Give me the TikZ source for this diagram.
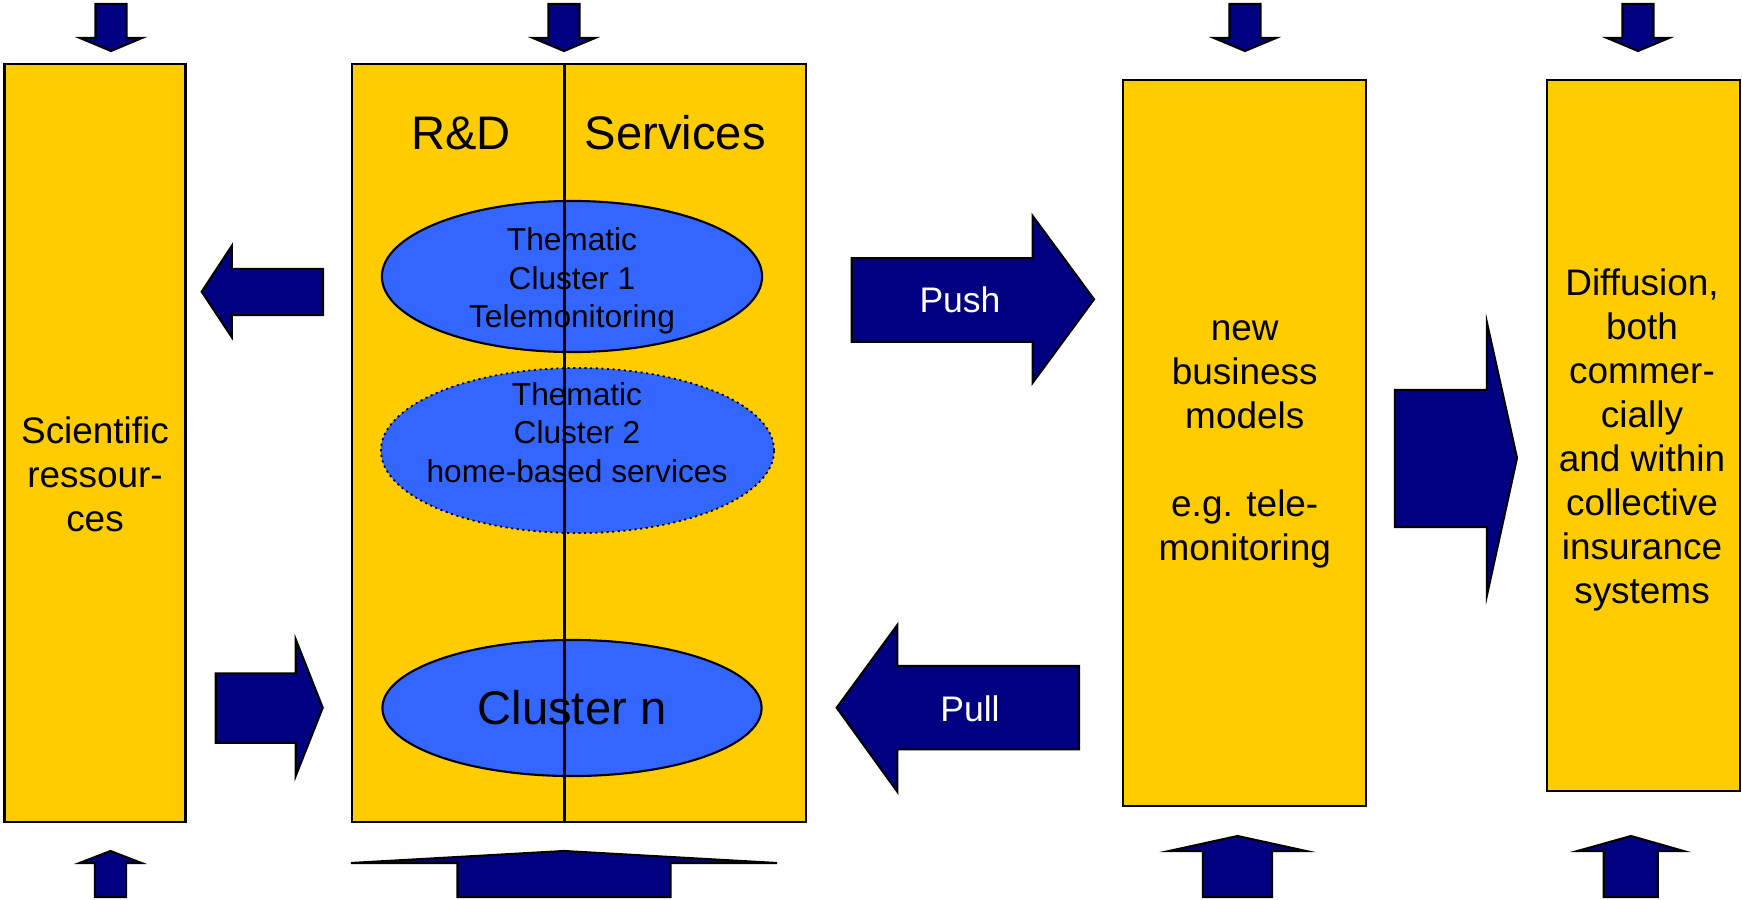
\documentclass[tikz,border=0pt]{standalone}
\usepackage{fontspec}
\setmainfont{Liberation Sans}
\usepackage{xcolor}
\usepackage{tikz}
\usetikzlibrary{shapes.geometric}
\definecolor{boxyellow}{HTML}{FFCC00}
\definecolor{clusterblue}{HTML}{3366FF}
\definecolor{arrownavy}{HTML}{000080}

\begin{document}
\begin{tikzpicture}[x=0.01cm, y=-0.01cm,
    column/.style={rectangle, draw=black, line width=0.6pt, fill=boxyellow, inner sep=0pt},
    cluster/.style={ellipse, draw=black, line width=0.6pt, fill=clusterblue, inner sep=0pt},
    blockarrow/.style={draw=black, line width=0.6pt, fill=arrownavy, line join=miter},
    coltext/.style={align=center, inner sep=0pt, font=\fontsize{10.5}{12.5}\selectfont},
    clustertext/.style={align=center, inner sep=0pt, font=\fontsize{9}{10.9}\selectfont},
    headtext/.style={inner sep=0pt, font=\fontsize{13.4}{16}\selectfont},
    arrowtext/.style={inner sep=0pt, text=white, font=\fontsize{10.1}{12}\selectfont}]
      \useasboundingbox (0,0) rectangle (1742,900);

      \node[column, minimum width=1.81cm, minimum height=7.575cm] (sci) at (95,443.25) {};
      \node[column, minimum width=4.535cm, minimum height=7.575cm] (rd) at (578.75,443.25) {};
      \node[column, minimum width=2.425cm, minimum height=7.26cm] (biz) at (1244.75,443) {};
      \node[column, minimum width=1.925cm, minimum height=7.11cm] (diff) at (1643.25,435.5) {};

      \node[coltext] (scitext) at (95,474) {Scientific\\ressour-\\ces};
      \node[coltext] (biztext) at (1244.75,444) {new\\business\\models\\[12.5pt]e.g. tele-\\monitoring};
      \node[coltext] (difftext) at (1642,440) {Diffusion,\\both\\commer-\\cially\\and within\\collective\\insurance\\systems};

      \node[headtext, anchor=base] (rdlabel) at (461,149) {R\&D};
      \node[headtext, anchor=base] (servlabel) at (675.3,149) {Services};

      \node[cluster, minimum width=3.8cm, minimum height=1.51cm] (c1) at (572,276.5) {};
      \node[cluster, densely dotted, line width=0.5pt, minimum width=3.93cm, minimum height=1.65cm] (c2) at (577.5,450.5) {};
      \node[cluster, minimum width=3.79cm, minimum height=1.36cm, font=\fontsize{13.4}{16}\selectfont] (c3) at (572,708) {Cluster n};
      \node[clustertext] (c1text) at (572,281) {Thematic\\Cluster 1\\Telemonitoring};
      \node[clustertext] (c2text) at (577,432.5) {Thematic\\Cluster 2\\home-based services};

      \draw[line width=0.6pt] (564.5,0 |- rd.north) -- (564.5,0 |- rd.south);

      \draw[blockarrow] (95.5,4) -- (126.5,4) -- (126.5,38) -- (142,38) -- (111,51) -- (80,38) -- (95.5,38) -- cycle;
      \draw[blockarrow] (548.5,4) -- (579.5,4) -- (579.5,38) -- (595,38) -- (564,51) -- (533,38) -- (548.5,38) -- cycle;
      \draw[blockarrow] (1229.5,4) -- (1260.5,4) -- (1260.5,38) -- (1276,38) -- (1245,51) -- (1214,38) -- (1229.5,38) -- cycle;
      \draw[blockarrow] (1622.5,4) -- (1653.5,4) -- (1653.5,38) -- (1669,38) -- (1638,51) -- (1607,38) -- (1622.5,38) -- cycle;

      \draw[blockarrow] (95,897) -- (95,863) -- (79.5,863) -- (110.5,851) -- (141.5,863) -- (126,863) -- (126,897) -- cycle;
      \draw[blockarrow] (457.5,897) -- (457.5,863) -- (351,863) -- (564,851) -- (777,863) -- (670.5,863) -- (670.5,897) -- cycle;
      \draw[blockarrow] (1203,897) -- (1203,851) -- (1169,851) -- (1237.5,836) -- (1306,851) -- (1272,851) -- (1272,897) -- cycle;
      \draw[blockarrow] (1603.7,897) -- (1603.7,851) -- (1577.5,851) -- (1631,836) -- (1683.5,851) -- (1657.7,851) -- (1657.7,897) -- cycle;

      \draw[blockarrow] (323,269) -- (231.7,269) -- (231.7,246) -- (201.7,291.7) -- (231.7,337) -- (231.7,315) -- (323,315) -- cycle;
      \draw[blockarrow] (215.7,673.3) -- (295.7,673.3) -- (295.7,639.3) -- (322.7,707.7) -- (295.7,776) -- (295.7,742.7) -- (215.7,742.7) -- cycle;
      \draw[blockarrow] (851.7,258.3) -- (1032.7,258.3) -- (1032.7,216) -- (1094,299.3) -- (1032.7,382.7) -- (1032.7,341.7) -- (851.7,341.7) -- cycle;
      \draw[blockarrow] (1079,666) -- (897.3,666) -- (897.3,625) -- (836.7,707.7) -- (897.3,791.7) -- (897.3,749.3) -- (1079,749.3) -- cycle;
      \draw[blockarrow] (1395,390) -- (1487,390) -- (1487,323) -- (1517,458) -- (1487,595) -- (1487,527) -- (1395,527) -- cycle;

      \node[arrowtext, anchor=base] (push) at (960,312.7) {Push};
      \node[arrowtext, anchor=base] (pull) at (970,721) {Pull};
\end{tikzpicture}
\end{document}
